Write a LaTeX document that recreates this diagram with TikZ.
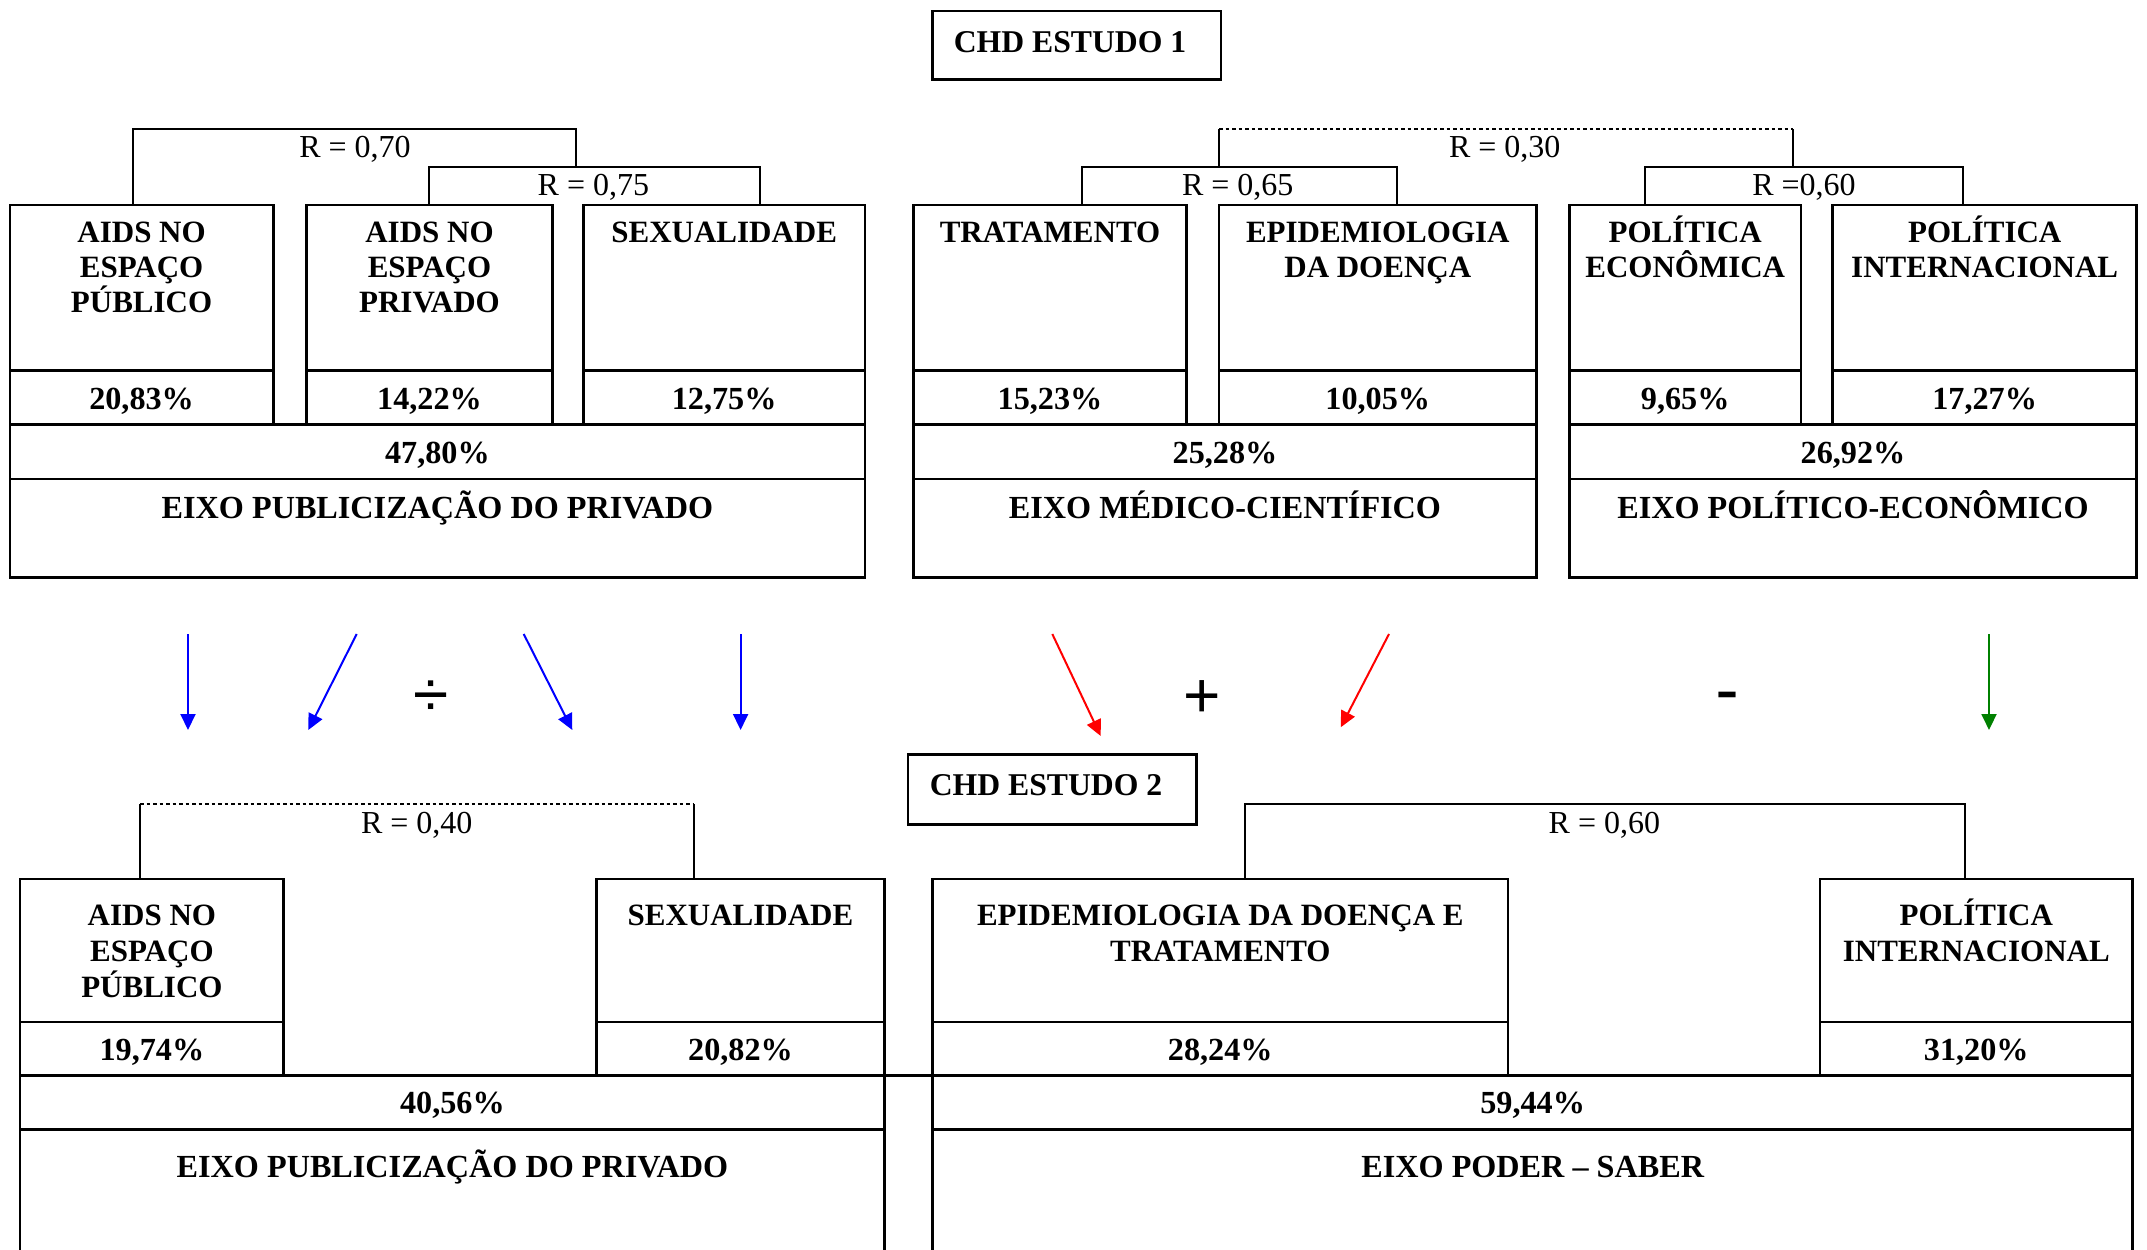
\documentclass[tikz,border=0pt]{standalone}
\usepackage{fontspec}
\setmainfont{Liberation Serif}
\newfontfamily\symfont{Liberation Sans}
\usetikzlibrary{arrows.meta}
\newcommand\lsr{\rule{0pt}{30pt}}
\begin{document}
\begin{tikzpicture}[x=1pt,y=-1pt,
  frame/.style={line width=2.6pt},
  brk/.style={line width=2pt},
  dotbrk/.style={line width=2pt, dash pattern=on 3.5pt off 3pt},
  lbl/.style={font=\fontsize{31}{35}\selectfont\bfseries, align=center, inner sep=0pt, anchor=north},
  lblb/.style={font=\fontsize{31}{36}\selectfont\bfseries, align=center, inner sep=0pt, anchor=north},
  num/.style={font=\fontsize{32.2}{36}\selectfont\bfseries, inner sep=0pt, anchor=base},
  chd/.style={font=\fontsize{31.7}{36}\selectfont\bfseries, inner sep=0pt, anchor=base},
  rlab/.style={font=\fontsize{32}{36}\selectfont, inner sep=0pt, anchor=base},
  sym/.style={inner sep=0pt, anchor=center},
  arr/.style={line width=2pt, -{Triangle[length=16pt,width=15pt]}},
]
\fill[white] (0,0) rectangle (2147,1250);
\useasboundingbox (0,0) rectangle (2147,1250);
\clip (0,0) rectangle (2147,1250);

% ---------------- CHD ESTUDO 1 ----------------
\draw[frame] (932.3,11) rectangle (1221,79.3);
\node[chd] (chd1) at (1070,52.3) {CHD ESTUDO 1};

% top boxes
\foreach \xa/\xb in {9.9/273.3, 306.2/552.7, 583.5/864.8, 913.3/1186.7, 1219/1536.6, 1569.4/1801, 1832.7/2136.7}{
  \draw[frame] (\xa,424.3) -- (\xa,205) -- (\xb,205) -- (\xb,424.3);
  \draw[frame] (\xa,370.3) -- (\xb,370.3);
}
\foreach \xa/\xb in {9.9/864.8, 913.3/1536.6, 1569.4/2136.7}{
  \draw[frame] (\xa,424.3) rectangle (\xb,577.5);
  \draw[frame] (\xa,478.8) -- (\xb,478.8);
}

% top brackets
\draw[brk] (133.2,205) -- (133.2,129) -- (575.5,129) -- (575.5,166.7);
\draw[brk] (429.4,205) -- (429.4,166.7) -- (760.4,166.7) -- (760.4,205);
\draw[brk] (1219,166.7) -- (1219,129);
\draw[dotbrk] (1219,129) -- (1793.3,129);
\draw[brk] (1793.3,129) -- (1793.3,166.7);
\draw[brk] (1081.7,205) -- (1081.7,166.7) -- (1397.3,166.7) -- (1397.3,205);
\draw[brk] (1645,205) -- (1645,166.7) -- (1963.3,166.7) -- (1963.3,205);

\node[rlab] (r70) at (355,157.5) {R = 0,70};
\node[rlab] (r75) at (593.4,195.5) {R = 0,75};
\node[rlab] (r30) at (1504.7,157.5) {R = 0,30};
\node[rlab] (r65) at (1237.7,195.5) {R = 0,65};
\node[rlab] (r60a) at (1804,195.5) {R =0,60};

% top labels
\node[lbl] (ta) at (141.6,212) {\lsr AIDS NO\\ESPAÇO\\PÚBLICO};
\node[lbl] (tb) at (429.5,212) {\lsr AIDS NO\\ESPAÇO\\PRIVADO};
\node[lbl] (tc) at (724.2,212) {\lsr SEXUALIDADE};
\node[lbl] (td) at (1050,212) {\lsr TRATAMENTO};
\node[lbl] (te) at (1377.8,212) {\lsr EPIDEMIOLOGIA\\DA DOENÇA};
\node[lbl] (tf) at (1685.2,212) {\lsr POLÍTICA\\ECONÔMICA};
\node[lbl] (tg) at (1984.7,212) {\lsr POLÍTICA\\INTERNACIONAL};

\node[num] (pa) at (141.6,409) {20,83\%};
\node[num] (pb) at (429.5,409) {14,22\%};
\node[num] (pc) at (724.2,409) {12,75\%};
\node[num] (pd) at (1050,409) {15,23\%};
\node[num] (pe) at (1377.8,409) {10,05\%};
\node[num] (pf) at (1685.2,409) {9,65\%};
\node[num] (pg) at (1984.7,409) {17,27\%};

\node[num] (s1) at (437.4,463) {47,80\%};
\node[num] (s2) at (1225,463) {25,28\%};
\node[num] (s3) at (1853,463) {26,92\%};

\node[num] (e1) at (437.4,518) {EIXO PUBLICIZAÇÃO DO PRIVADO};
\node[num] (e2) at (1225,518) {EIXO MÉDICO-CIENTÍFICO};
\node[num] (e3) at (1853,518) {EIXO POLÍTICO-ECONÔMICO};

% ---------------- arrows ----------------
\coordinate (b1s) at (188,634);    \coordinate (b1e) at (188,730);
\coordinate (b2s) at (356.7,634);  \coordinate (b2e) at (308.3,730);
\coordinate (b3s) at (523.7,634);  \coordinate (b3e) at (572.3,730);
\coordinate (b4s) at (740.6,634);  \coordinate (b4e) at (740.6,730);
\coordinate (r1s) at (1052.3,634); \coordinate (r1e) at (1100.7,736);
\coordinate (r2s) at (1389,634);   \coordinate (r2e) at (1340.7,727.3);
\coordinate (g1s) at (1989,634);   \coordinate (g1e) at (1989,730);
\draw[arr, blue] (b1s) -- (b1e);
\draw[arr, blue] (b2s) -- (b2e);
\draw[arr, blue] (b3s) -- (b3e);
\draw[arr, blue] (b4s) -- (b4e);
\draw[arr, red] (r1s) -- (r1e);
\draw[arr, red] (r2s) -- (r2e);
\draw[arr, green!50!black] (g1s) -- (g1e);

\node[sym, font=\symfont\fontsize{64}{64}\selectfont] (div) at (430.7,699) {÷};
\node[sym, font=\symfont\fontsize{64}{64}\selectfont] (plus) at (1202,699) {+};
\node[sym, font=\fontsize{66}{66}\selectfont\bfseries] (minus) at (1727,701) {-};

% ---------------- CHD ESTUDO 2 ----------------
\draw[frame] (907.9,754.5) rectangle (1196.4,824.3);
\node[chd] (chd2) at (1046,795) {CHD ESTUDO 2};

\foreach \xa/\xb in {20/283.7, 596.2/884.7, 932.7/1507.8, 1819.8/2132.7}{
  \draw[frame] (\xa,1075.7) -- (\xa,879) -- (\xb,879) -- (\xb,1075.7);
  \draw[frame] (\xa,1022) -- (\xb,1022);
}
\draw[frame] (20,1075.7) -- (2132.7,1075.7);
\foreach \xa/\xb in {20/884.7, 932.7/2132.7}{
  \draw[frame] (\xa,1075.7) -- (\xa,1262);
  \draw[frame] (\xb,1075.7) -- (\xb,1262);
  \draw[frame] (\xa,1129.5) -- (\xb,1129.5);
}

\draw[brk] (140,879) -- (140,804);
\draw[dotbrk] (140,804) -- (693.8,804);
\draw[brk] (693.8,804) -- (693.8,879);
\draw[brk] (1245.2,879) -- (1245.2,804) -- (1964.6,804) -- (1964.6,879);

\node[rlab] (r40) at (416.7,833.3) {R = 0,40};
\node[rlab] (r60b) at (1604.4,833.3) {R = 0,60};

\node[lblb] (bh) at (151.9,895) {\lsr AIDS NO\\ESPAÇO\\PÚBLICO};
\node[lblb] (bi) at (740.5,895) {\lsr SEXUALIDADE};
\node[lblb] (bj) at (1220.3,895) {\lsr EPIDEMIOLOGIA DA DOENÇA E\\TRATAMENTO};
\node[lblb] (bk) at (1976.3,895) {\lsr POLÍTICA\\INTERNACIONAL};

\node[num] (ph) at (151.9,1060) {19,74\%};
\node[num] (pi) at (740.5,1060) {20,82\%};
\node[num] (pj) at (1220.3,1060) {28,24\%};
\node[num] (pk) at (1976.3,1060) {31,20\%};

\node[num] (s4) at (452.4,1113.3) {40,56\%};
\node[num] (s5) at (1532.7,1113.3) {59,44\%};

\node[num] (e4) at (452.4,1177) {EIXO PUBLICIZAÇÃO DO PRIVADO};
\node[num] (e5) at (1532.7,1177) {EIXO PODER – SABER};
\end{tikzpicture}
\end{document}
